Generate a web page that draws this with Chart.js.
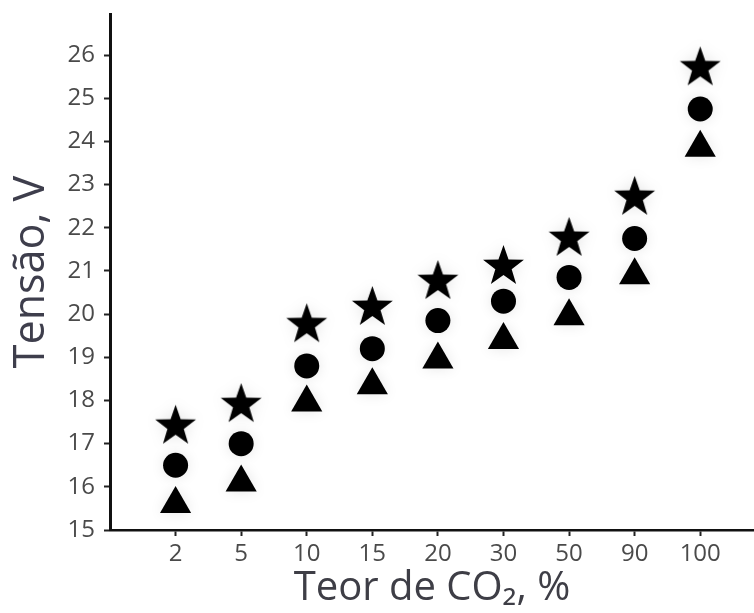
<!DOCTYPE html>
<html>
<head>
<meta charset="utf-8">
<script src="https://cdn.jsdelivr.net/npm/chart.js@4"></script>
<style>
  html, body { margin: 0; padding: 0; background: #fff; overflow: hidden; }
  #wrap { width: 754px; height: 613px; }
  canvas { display: block; }
</style>
</head>
<body>
<div id="wrap"><canvas id="myChart"></canvas></div>
<script>
// CO2 content categories (%) and measured voltage for three series
const categories = ['2', '5', '10', '15', '20', '30', '50', '90', '100'];
const starValues = [17.45, 17.95, 19.8, 20.2, 20.8, 21.15, 21.8, 22.75, 25.75];
const circleValues = [16.5, 17.0, 18.8, 19.2, 19.85, 20.3, 20.85, 21.75, 24.75];
const triangleValues = [15.6, 16.1, 17.95, 18.35, 18.95, 19.4, 19.95, 20.9, 23.85];
const yTicks = [15, 16, 17, 18, 19, 20, 21, 22, 23, 24, 25, 26];

// filled five point star used as a point style
function makeStar(R) {
  const r = R * 0.4;
  const c = document.createElement('canvas');
  const w = Math.ceil(R * 2 + 2);
  const h = Math.ceil(R * 1.81 + 2);
  c.width = w; c.height = h;
  const g = c.getContext('2d');
  g.fillStyle = '#000';
  g.beginPath();
  for (let i = 0; i < 10; i++) {
    const a = -Math.PI / 2 + i * Math.PI / 5;
    const rad = i % 2 === 0 ? R : r;
    const px = w / 2 + rad * Math.cos(a);
    const py = 1 + R + rad * Math.sin(a);
    if (i === 0) g.moveTo(px, py); else g.lineTo(px, py);
  }
  g.closePath();
  g.fill();
  return c;
}
const star = makeStar(21.5);

function toPoints(values) {
  return values.map((v, i) => ({ x: i + 1, y: v }));
}

const glow = {
  id: 'glow',
  beforeDatasetsDraw(chart) {
    chart.ctx.save();
    chart.ctx.shadowColor = 'rgba(0,0,0,0.10)';
    chart.ctx.shadowBlur = 14;
  },
  afterDatasetsDraw(chart) {
    chart.ctx.restore();
  }
};

var ctx = document.getElementById('myChart').getContext('2d');
var chart = new Chart(ctx, {
  type: 'scatter',
  data: {
    datasets: [
      {
        label: 'star',
        data: toPoints(starValues),
        pointStyle: star,
        backgroundColor: '#000',
        borderColor: '#000'
      },
      {
        label: 'circle',
        data: toPoints(circleValues),
        pointStyle: 'circle',
        pointRadius: 12.5,
        pointBorderWidth: 0,
        backgroundColor: '#000',
        borderColor: '#000'
      },
      {
        label: 'triangle',
        data: toPoints(triangleValues),
        pointStyle: 'triangle',
        pointRadius: 18,
        pointBorderWidth: 0,
        backgroundColor: '#000',
        borderColor: '#000'
      }
    ]
  },
  plugins: [glow],
  options: {
    responsive: true,
    maintainAspectRatio: false,
    animation: false,
    layout: { autoPadding: false, padding: { top: 14, right: 0, left: 0, bottom: 0 } },
    plugins: {
      legend: { display: false },
      tooltip: { enabled: false }
    },
    scales: {
      x: {
        type: 'linear',
        min: 0,
        max: 9.82,
        afterFit(axis) {
          axis.height = 83;
          axis.paddingLeft = 0;
          axis.paddingRight = 0;
        },
        afterBuildTicks(axis) {
          axis.ticks = categories.map((c, i) => ({ value: i + 1 }));
        },
        ticks: {
          padding: 4,
          color: '#4a4a4a',
          font: { family: 'Open Sans', size: 24 },
          maxRotation: 0,
          callback: (v) => categories[v - 1] || ''
        },
        grid: {
          drawOnChartArea: false,
          tickLength: 6,
          tickColor: '#222',
          tickWidth: 2
        },
        border: { color: '#111', width: 2.5 },
        title: {
          display: true,
          text: 'Teor de CO₂, %',
          color: '#3e3e46',
          font: { family: 'Open Sans', size: 40 },
          padding: { top: 0, bottom: 0 }
        }
      },
      y: {
        min: 15,
        max: 26.95,
        afterFit(axis) {
          axis.width = 110;
          axis.paddingTop = 0;
          axis.paddingBottom = 0;
        },
        afterBuildTicks(axis) {
          axis.ticks = yTicks.map(v => ({ value: v }));
        },
        ticks: {
          padding: 9,
          color: '#4a4a4a',
          font: { family: 'Open Sans', size: 24 }
        },
        grid: {
          drawOnChartArea: false,
          tickLength: 6,
          tickColor: '#222',
          tickWidth: 2
        },
        border: { color: '#111', width: 3 },
        title: {
          display: true,
          text: 'Tensão, V',
          color: '#3e3e4c',
          font: { family: 'Open Sans', size: 43 },
          padding: { top: 6, bottom: 0 }
        }
      }
    }
  }
});
</script>
</body>
</html>
